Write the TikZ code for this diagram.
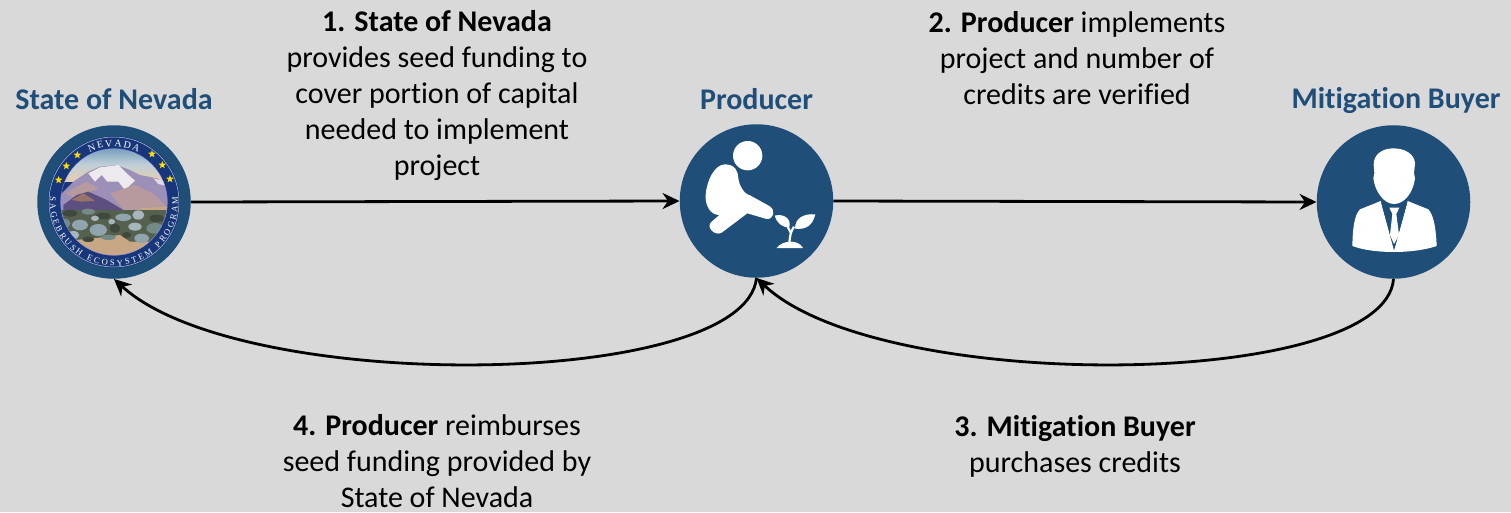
\documentclass[tikz,border=0pt]{standalone}
\usepackage{fontspec}
\setmainfont{Carlito}[Ligatures=NoCommon]
\newfontfamily\sealfont{Liberation Serif}
\usetikzlibrary{arrows.meta,decorations.text,shapes.geometric}
\definecolor{bgc}{HTML}{D9D9D9}
\definecolor{blu}{HTML}{1F4E79}
\definecolor{navy}{HTML}{17377A}
\definecolor{skytop}{HTML}{6F9AB8}
\definecolor{skymid}{HTML}{BFCFD8}
\definecolor{skylow}{HTML}{E6CFAE}
\definecolor{lav}{HTML}{9C8FB8}
\definecolor{snow}{HTML}{EEE9EC}
\definecolor{rose}{HTML}{B79A9E}
\definecolor{deep}{HTML}{5D4F80}
\definecolor{umber}{HTML}{9A7468}
\definecolor{tan}{HTML}{C7A784}
\definecolor{scrub}{HTML}{55604F}
\definecolor{sagea}{HTML}{8FA4AC}
\definecolor{sageb}{HTML}{A6B6BC}
\definecolor{sagec}{HTML}{3F483C}
\definecolor{saged}{HTML}{748A88}
\tikzset{
  disc/.style={circle,fill=blu,inner sep=0pt,minimum size=153.5pt},
  heading/.style={text=blu,font=\fontsize{30}{34}\selectfont\bfseries,inner sep=0pt},
  body/.style={align=center,font=\fontsize{30}{36}\selectfont,inner sep=0pt},
  link/.style={line width=2.8pt,draw=black,-{Stealth[length=17pt,width=16pt]}},
  sealstar/.style={star,star points=5,star point ratio=2.4,fill=yellow!80!orange,inner sep=0pt,minimum size=8pt},
}
\begin{document}
\begin{tikzpicture}[x=1pt,y=-1pt]
\useasboundingbox (0,0) rectangle (1511,512);
\fill[bgc] (0,0) rectangle (1511,512);
% discs
\node[disc] (nevada) at (114,202) {};
\node[disc] (producer) at (756.5,201) {};
\node[disc] (buyer) at (1393.5,202) {};
% seal
\begin{scope}[shift={(114,202)}]
  \fill[navy] (0,0) circle[radius=66];
  \draw[white!70!navy,line width=0.5pt] (0,0) circle[radius=65];
\end{scope}
\begin{scope}[shift={(20,110)},scale=1/3]
  \begin{scope}
    \clip (282,276) circle[radius=160];
    \shade[top color=skytop,bottom color=skylow,middle color=skymid] (100,110) rectangle (470,215);
    \fill[lav] (120,255) -- (160,215) -- (205,185) -- (240,170) -- (290,165) -- (330,180) -- (360,195) -- (410,205) -- (450,225) -- (450,320) -- (120,320) -- cycle;
    \fill[snow] (205,190) -- (240,172) -- (295,165) -- (320,190) -- (345,212) -- (315,240) -- (295,215) -- (262,215) -- (245,195) -- (225,215) -- cycle;
    \fill[snow!85!lav] (400,205) -- (440,215) -- (440,228) -- (415,222) -- cycle;
    \fill[rose] (270,250) -- (345,225) -- (400,250) -- (445,295) -- (440,320) -- (320,310) -- cycle;
    \fill[rose] (135,250) -- (200,215) -- (235,235) -- (170,265) -- cycle;
    \fill[deep] (130,285) -- (170,255) -- (205,245) -- (260,270) -- (310,300) -- (300,320) -- (130,320) -- cycle;
    \fill[umber] (155,270) -- (190,250) -- (225,272) -- (185,275) -- cycle;
    \fill[tan] (360,295) -- (445,290) -- (450,330) -- (380,330) -- cycle;
    \fill[scrub] (110,300) rectangle (460,400);
    \fill[tan] (110,395) -- (220,385) -- (300,375) -- (330,395) -- (460,395) -- (460,440) -- (110,440) -- cycle;
    \foreach \a/\b/\c/\d/\e in {
      150/310/22/10/sagec, 205/305/20/9/saged, 250/318/22/10/sagec, 310/322/24/11/sagea,
      355/315/18/14/sageb, 410/325/22/11/sagec, 135/340/16/14/saged, 180/345/24/16/sagea,
      235/360/26/18/sagea, 285/355/16/14/sagec, 345/350/20/12/sageb, 405/355/26/16/saged,
      160/375/18/12/sageb, 205/388/18/8/sagec, 265/382/22/8/saged, 365/385/22/14/sagea, 425/385/16/10/saged,
      225/325/12/8/sageb, 275/335/10/8/sageb, 120/320/10/10/sagea, 320/375/14/9/sagec}
      {\fill[\e] (\a,\b) ellipse[x radius=\c,y radius=\d];}
  \end{scope}
  \draw[white!60!blue,line width=0.3pt] (282,276) circle[radius=160];
  \foreach \n/\sx/\sy in {a/172/135,b/396/132,c/139/168,d/427/165,e/116/210,f/450/207}
    \node[sealstar] (star\n) at (\sx,\sy) {};
\end{scope}
\begin{scope}[shift={(114,202)},x=1pt,y=1pt]
  \path[decorate,decoration={text along path,text align=fit to path,
    text={|\sealfont\fontsize{10}{10}\selectfont\color{white}|NEVADA}}]
    (0,0) ++(116:55.5) arc[start angle=116,end angle=64,radius=55.5];
  \path[decorate,decoration={text along path,text align=fit to path,
    text={|\sealfont\fontsize{8.6}{9}\selectfont\color{white}|SAGEBRUSH ECOSYSTEM PROGRAM}}]
    (0,0) ++(175:64) arc[start angle=175,end angle=365,radius=64];
\end{scope}
% producer icon
\begin{scope}[shift={(670,120)},scale=1/3]
  \fill[white] (233,107) circle[radius=44];
  \fill[white] (165,133) .. controls (195,133) and (205,155) .. (205,175)
    .. controls (207,195) and (222,222) .. (240,226) -- (298,258)
    .. controls (318,270) and (312,298) .. (290,297) -- (232,280) -- (155,338)
    .. controls (135,350) and (105,320) .. (125,305) -- (148,285)
    .. controls (120,285) and (105,255) .. (107,225)
    .. controls (110,180) and (135,133) .. (165,133) -- cycle;
  \fill[white] (320,384) .. controls (335,362) and (383,355) .. (399,384) -- cycle;
  \draw[white,line width=2.2pt] (358,370) .. controls (360,345) and (362,335) .. (372,320);
  \draw[white,line width=2pt] (352,318) -- (362,338);
  \fill[white] (314,287) .. controls (340,280) and (365,295) .. (358,322) .. controls (335,322) and (322,310) .. (314,287) -- cycle;
  \fill[white] (436,283) .. controls (400,280) and (375,295) .. (375,326) .. controls (410,330) and (428,315) .. (436,283) -- cycle;
\end{scope}
% buyer icon
\begin{scope}[shift={(1310,120)},scale=1/3]
  \fill[white] (250,85) .. controls (215,85) and (190,105) .. (191,135) -- (193,160) -- (190,175) .. controls (195,215) and (222,252) .. (252,252) .. controls (285,252) and (310,215) .. (315,175) -- (312,160) -- (315,130) .. controls (313,102) and (285,85) .. (250,85) -- cycle;
  \fill[white] (212,243) -- (150,268) .. controls (132,285) and (128,330) .. (127,378) .. controls (190,402) and (310,402) .. (380,378) .. controls (378,330) and (372,285) .. (355,268) -- (293,243) -- (252,392) -- cycle;
  \fill[blu] (214,250) .. controls (228,258) and (275,258) .. (291,250) -- (253,386) -- cycle;
  \fill[white] (238,263) -- (268,263) -- (259,282) -- (267,345) -- (252,372) -- (240,345) -- (247,282) -- cycle;
\end{scope}
% connectors
\draw[link] (nevada.east) -- (producer.west);
\draw[link] (producer.east) -- (buyer.west);
\draw[link] (buyer.south) .. controls (1385,390) and (880,395) .. (producer.south);
\draw[link] (producer.south) .. controls (745,390) and (240,395) .. (nevada.south);
% headings
\node[heading] (hnev) at (114,99.5) {State of Nevada};
\node[heading] (hpro) at (756.5,99.5) {Producer};
\node[heading] (hbuy) at (1396,100.5) {Mitigation Buyer};
% captions
\node[body] (t1) at (437,95.5) {\textbf{1. State of Nevada}\\provides seed funding to\\cover portion of capital\\needed to implement\\project};
\node[body] (t2) at (1077,58) {\textbf{2. Producer} implements\\project and number of\\credits are verified};
\node[body] (t3) at (1075,446) {\textbf{3. Mitigation Buyer}\\purchases credits};
\node[body] (t4) at (437,461) {\textbf{4. Producer} reimburses\\seed funding provided by\\State of Nevada};
\end{tikzpicture}
\end{document}
